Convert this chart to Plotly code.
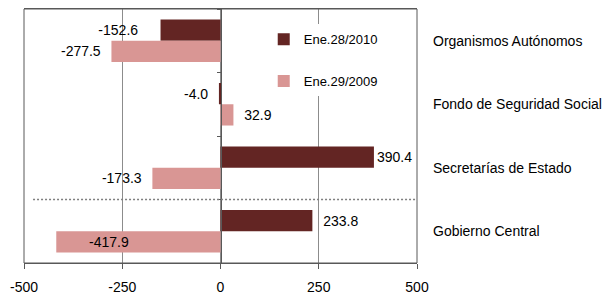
import plotly.graph_objects as go

categories = ["Organismos Autónomos", "Fondo de Seguridad Social",
              "Secretarías de Estado", "Gobierno Central"]
series_2010_name = "Ene.28/2010"
series_2009_name = "Ene.29/2009"
values_2010 = [-152.6, -4.0, 390.4, 233.8]
values_2009 = [-277.5, 32.9, -173.3, -417.9]
x_ticks = [-500, -250, 0, 250, 500]

# style: spaces between each bar end and its label
gap_2010 = [5, 2, 0, 2]
gap_2009 = [2, 2, 2, 2]

DARK = "#632523"
PINK = "#D99694"
FONT = "Liberation Sans, Arial, sans-serif"


def label(v, n):
    pad = " " * n
    return f"{v:.1f}{pad}" if v < 0 else f"{pad}{v:.1f}"


# labels that do not fit outside the plot are drawn as annotations inside
lo = x_ticks[0]
text_2010 = [label(v, g) for v, g in zip(values_2010, gap_2010)]
text_2009 = [label(v, g) if v > lo * 0.8 else "" for v, g in zip(values_2009, gap_2009)]

fig = go.Figure()
fig.add_trace(go.Bar(y=categories, x=values_2010, orientation="h", name=series_2010_name,
                     marker=dict(color=DARK, line=dict(width=0)),
                     text=text_2010, textposition="outside", cliponaxis=False,
                     textfont=dict(size=14, color="black", family=FONT),
                     legendgroup="a"))
fig.add_trace(go.Bar(y=categories, x=values_2009, orientation="h", name=series_2009_name,
                     marker=dict(color=PINK, line=dict(width=0)),
                     text=text_2009, textposition="outside", cliponaxis=False,
                     textfont=dict(size=14, color="black", family=FONT),
                     legendgroup="b"))

annotations = []
for c, v in zip(categories, values_2009):
    if v <= lo * 0.8:
        annotations.append(dict(x=v, y=c, xref="x", yref="y", text=f"{v:.1f}",
                                showarrow=False, xanchor="left", xshift=31, yshift=-10.5,
                                font=dict(size=14, color="black", family=FONT)))
for c in categories:
    annotations.append(dict(x=1.036, y=c, xref="paper", yref="y", text=c,
                            showarrow=False, xanchor="left",
                            font=dict(size=14, color="black", family=FONT)))

fig.update_layout(
    width=609, height=296,
    margin=dict(l=24, r=192, t=9, b=33, autoexpand=False),
    paper_bgcolor="white", plot_bgcolor="white",
    barmode="group", bargap=0.33, bargroupgap=0,
    font=dict(family=FONT, size=14, color="black"),
    showlegend=True,
    legend=dict(x=0.61, y=0.94, xanchor="left", yanchor="top",
                bgcolor="white", font=dict(size=13, family=FONT, color="black"),
                traceorder="grouped", tracegroupgap=22),
    xaxis=dict(range=[x_ticks[0], x_ticks[-1]], tickvals=x_ticks,
               ticktext=[str(t) for t in x_ticks],
               showgrid=True, gridcolor="#8c8c8c", gridwidth=1,
               zeroline=False, showline=True, linecolor="#595959", linewidth=1,
               mirror=True, ticks="outside", ticklen=5, tickcolor="#595959",
               ticklabelstandoff=6, automargin=False,
               tickfont=dict(size=14, family=FONT, color="black")),
    yaxis=dict(categoryorder="array", categoryarray=categories,
               autorange="reversed", anchor="free", position=0.5,
               showline=True, linecolor="#595959", linewidth=1,
               ticks="outside", ticklen=4, tickcolor="#595959",
               tickson="boundaries", showticklabels=False, showgrid=False,
               zeroline=False, automargin=False),
    annotations=annotations,
    shapes=[
        dict(type="rect", xref="paper", yref="paper", x0=0, x1=1, y0=0, y1=1,
             line=dict(color="#595959", width=1), layer="above"),
        dict(type="line", xref="paper", yref="y", x0=0.023, x1=1, y0=2.5, y1=2.5,
             line=dict(color="#7f7f7f", width=1.5, dash="2px,2px"), layer="above"),
    ],
)

fig.write_html("out.html", config={"displayModeBar": False},
               post_script="document.body.style.margin='0';"
                           "document.body.style.overflow='hidden';")
